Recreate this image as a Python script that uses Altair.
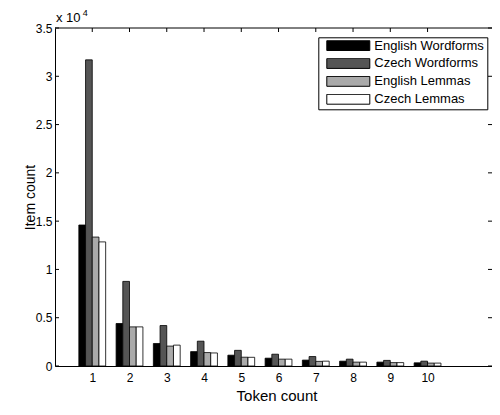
import altair as alt
import pandas as pd

FONT = "Liberation Sans"

series = ["English Wordforms", "Czech Wordforms", "English Lemmas", "Czech Lemmas"]
colors = ["#000000", "#555555", "#aaaaaa", "#ffffff"]
tokens = [1, 2, 3, 4, 5, 6, 7, 8, 9, 10]
english_wordforms = [14600, 4400, 2330, 1490, 1120, 810, 610, 500, 400, 330]
czech_wordforms = [31700, 8760, 4190, 2570, 1620, 1220, 980, 710, 580, 500]
english_lemmas = [13350, 4050, 2060, 1390, 910, 710, 480, 400, 350, 300]
czech_lemmas = [12850, 4050, 2160, 1350, 900, 710, 500, 400, 350, 300]
x_ticks = [1, 2, 3, 4, 5, 6, 7, 8, 9, 10]
y_ticks = [0, 5000, 10000, 15000, 20000, 25000, 30000, 35000]

rows = []
for i, (name, vals) in enumerate(zip(series, [english_wordforms, czech_wordforms, english_lemmas, czech_lemmas])):
    for t, v in zip(tokens, vals):
        rows.append({"token": t, "series": name, "idx": i, "count": v})
df = pd.DataFrame(rows)

W, H = 437, 338
PAD = {"left": 47, "top": 20, "right": 0, "bottom": 37}
xscale = alt.Scale(domain=[0, 11.73], nice=False, zero=False)
yscale = alt.Scale(domain=[0, 35000], nice=False)

xaxis = alt.Axis(title="Token count", values=x_ticks, ticks=False, tickSize=0, grid=False,
                 labelFontSize=12, labelFont=FONT, labelColor="black", labelPadding=6, labelAngle=0,
                 titleFontSize=15, titleFont=FONT, titleColor="black", titleFontWeight="normal",
                 titleX=221.5, titleY=34, titleBaseline="alphabetic", titleAlign="center",
                 domainColor="black", domainWidth=1)
yaxis = alt.Axis(title="Item count", values=y_ticks, labelExpr="datum.value / 10000 + ''",
                 ticks=False, tickSize=0, grid=False,
                 labelFontSize=12, labelFont=FONT, labelColor="black", labelPadding=3,
                 titleFontSize=14, titleFont=FONT, titleColor="black", titleFontWeight="normal",
                 titleX=-21, titleY=H / 2, titleBaseline="alphabetic", titleAlign="center",
                 domainColor="black", domainWidth=1)

legend = alt.Legend(title=None, orient="none", legendX=263.3, legendY=9.3,
                    symbolType="M-1,-0.23H1V0.23H-1Z", symbolSize=1849,
                    symbolStrokeColor="#000000", symbolStrokeWidth=1, symbolOffset=5,
                    labelFontSize=13, labelFont=FONT, labelColor="black", labelOffset=4,
                    padding=3, strokeColor="black", fillColor="white",
                    clipHeight=10.5, rowPadding=3.9, cornerRadius=0)

bars = alt.Chart(df).transform_calculate(
    x0="datum.token - 0.36 + datum.idx * 0.18",
    x1="datum.token - 0.18 + datum.idx * 0.18",
).mark_rect(stroke="black", strokeWidth=0.8).encode(
    x=alt.X("x0:Q", scale=xscale, axis=xaxis),
    x2="x1:Q",
    y=alt.Y("count:Q", scale=yscale, axis=yaxis),
    y2=alt.datum(0),
    color=alt.Color("series:N", scale=alt.Scale(domain=series, range=colors), legend=legend),
)

xt = pd.DataFrame({"v": x_ticks})
yt = pd.DataFrame({"v": y_ticks})

top_ticks = alt.Chart(xt).mark_rule(color="black", strokeWidth=1).encode(
    x=alt.X("v:Q", scale=xscale, axis=xaxis), y=alt.value(0), y2=alt.value(4))
bottom_ticks = alt.Chart(xt).mark_rule(color="black", strokeWidth=1).encode(
    x=alt.X("v:Q", scale=xscale, axis=xaxis), y=alt.value(H), y2=alt.value(H - 4))
left_ticks = alt.Chart(yt).mark_rule(color="black", strokeWidth=1).encode(
    y=alt.Y("v:Q", scale=yscale, axis=yaxis), x=alt.value(0), x2=alt.value(4))
right_ticks = alt.Chart(yt).mark_rule(color="black", strokeWidth=1).encode(
    y=alt.Y("v:Q", scale=yscale, axis=yaxis), x=alt.value(W - 4), x2=alt.value(W))
top_border = alt.Chart(pd.DataFrame({"a": [0]})).mark_rule(color="black", strokeWidth=1).encode(
    x=alt.value(0), x2=alt.value(W), y=alt.value(0))

exp_base = alt.Chart(pd.DataFrame({"t": ["x 10"]})).mark_text(
    align="left", baseline="alphabetic", fontSize=13, font=FONT, color="black").encode(
    text="t:N", x=alt.value(1), y=alt.value(-6.5))
exp_pow = alt.Chart(pd.DataFrame({"t": ["4"]})).mark_text(
    align="left", baseline="alphabetic", fontSize=9, font=FONT, color="black").encode(
    text="t:N", x=alt.value(27.7), y=alt.value(-12.5))

chart = alt.layer(top_ticks, bottom_ticks, left_ticks, right_ticks, top_border, bars, exp_base, exp_pow).properties(
    width=W, height=H,
    autosize=alt.AutoSizeParams(type="none"),
    padding=PAD,
).configure_view(strokeWidth=0)

chart.save("out.html", embed_options={"renderer": "svg", "actions": False})
